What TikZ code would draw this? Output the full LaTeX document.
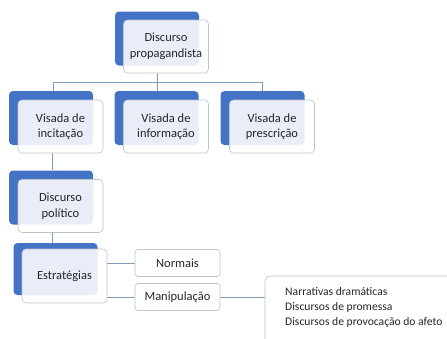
\documentclass[tikz,border=0pt]{standalone}
\usepackage{fontspec}
\setmainfont{Carlito}
\usetikzlibrary{backgrounds}
\definecolor{myblue}{HTML}{4472C4}
\definecolor{bordgray}{HTML}{BCC4CC}
\definecolor{connc}{HTML}{7F9DBA}
\definecolor{txt}{HTML}{262626}
\tikzset{
  back/.style={fill=myblue, draw=none, rounded corners=4pt, minimum width=84pt, minimum height=54pt, inner sep=0pt},
  front/.style={fill=white, fill opacity=0.88, text opacity=1, draw=bordgray, line width=0.6pt, rounded corners=4pt,
    minimum width=85pt, minimum height=53pt, inner sep=0pt, align=center, text=txt,
    font=\fontsize{12.5}{15.5}\selectfont},
  small/.style={fill=white, draw=bordgray, line width=0.6pt, rounded corners=3pt, minimum width=85pt,
    minimum height=27pt, inner sep=0pt, text=txt, font=\fontsize{12.5}{15.5}\selectfont},
  conn/.style={draw=connc, line width=0.8pt},
}
\begin{document}
\begin{tikzpicture}[x=1pt,y=-1pt]
\useasboundingbox (0,0) rectangle (447,338);
\clip (0,0) rectangle (447,338);
\coordinate (jA) at (53,82);
\coordinate (jB) at (157,82);
\coordinate (jC) at (262,82);
\node[back] (tb) at (157,38.5) {};
\node[back] (ab) at (51,118) {};
\node[back] (bb) at (156.5,118) {};
\node[back] (cb) at (262.5,118) {};
\node[back] (pb) at (51,197.5) {};
\node[back, minimum height=52pt] (eb) at (55.5,269) {};
\node[front] (top) at (166,46.5) {Discurso\\propagandista};
\node[front] (a) at (60.5,126.5) {Visada de\\incitação};
\node[front] (b) at (166,126.5) {Visada de\\informação};
\node[front] (c) at (272,126.5) {Visada de\\prescrição};
\node[front] (p) at (60.5,206) {Discurso\\político};
\node[front, minimum height=54pt] (e) at (64.5,276) {Estratégias};
\node[small] (n) at (177.5,263) {Normais};
\node[small] (m) at (177.5,297) {Manipulação};
\coordinate (bigtl) at (265,276);
\draw[draw=bordgray, line width=0.6pt, rounded corners=6pt, fill=white] (bigtl) rectangle (470,360);
\node[anchor=north west, align=left, text=txt, inner sep=0pt, font=\fontsize{11.6}{15}\selectfont] (list) at (285,287)
  {Narrativas dramáticas\\Discursos de promessa\\Discursos de provocação do afeto};
\begin{scope}[on background layer]
\draw[conn] (top.south -| jB) -- (jB);
\draw[conn] (jA) -- (jC);
\draw[conn] (jA) -- (ab.north -| jA);
\draw[conn] (jB) -- (bb.north -| jB);
\draw[conn] (jC) -- (cb.north -| jC);
\draw[conn] (a.south -| 52,0) -- (pb.north -| 52,0);
\draw[conn] (p.south -| 52,0) -- (eb.north -| 52,0);
\draw[conn] (e.east |- n.west) -- (n.west);
\draw[conn] (e.east |- m.west) -- (m.west);
\draw[conn] (m.east) -- (bigtl |- m.east);
\end{scope}
\end{tikzpicture}
\end{document}
